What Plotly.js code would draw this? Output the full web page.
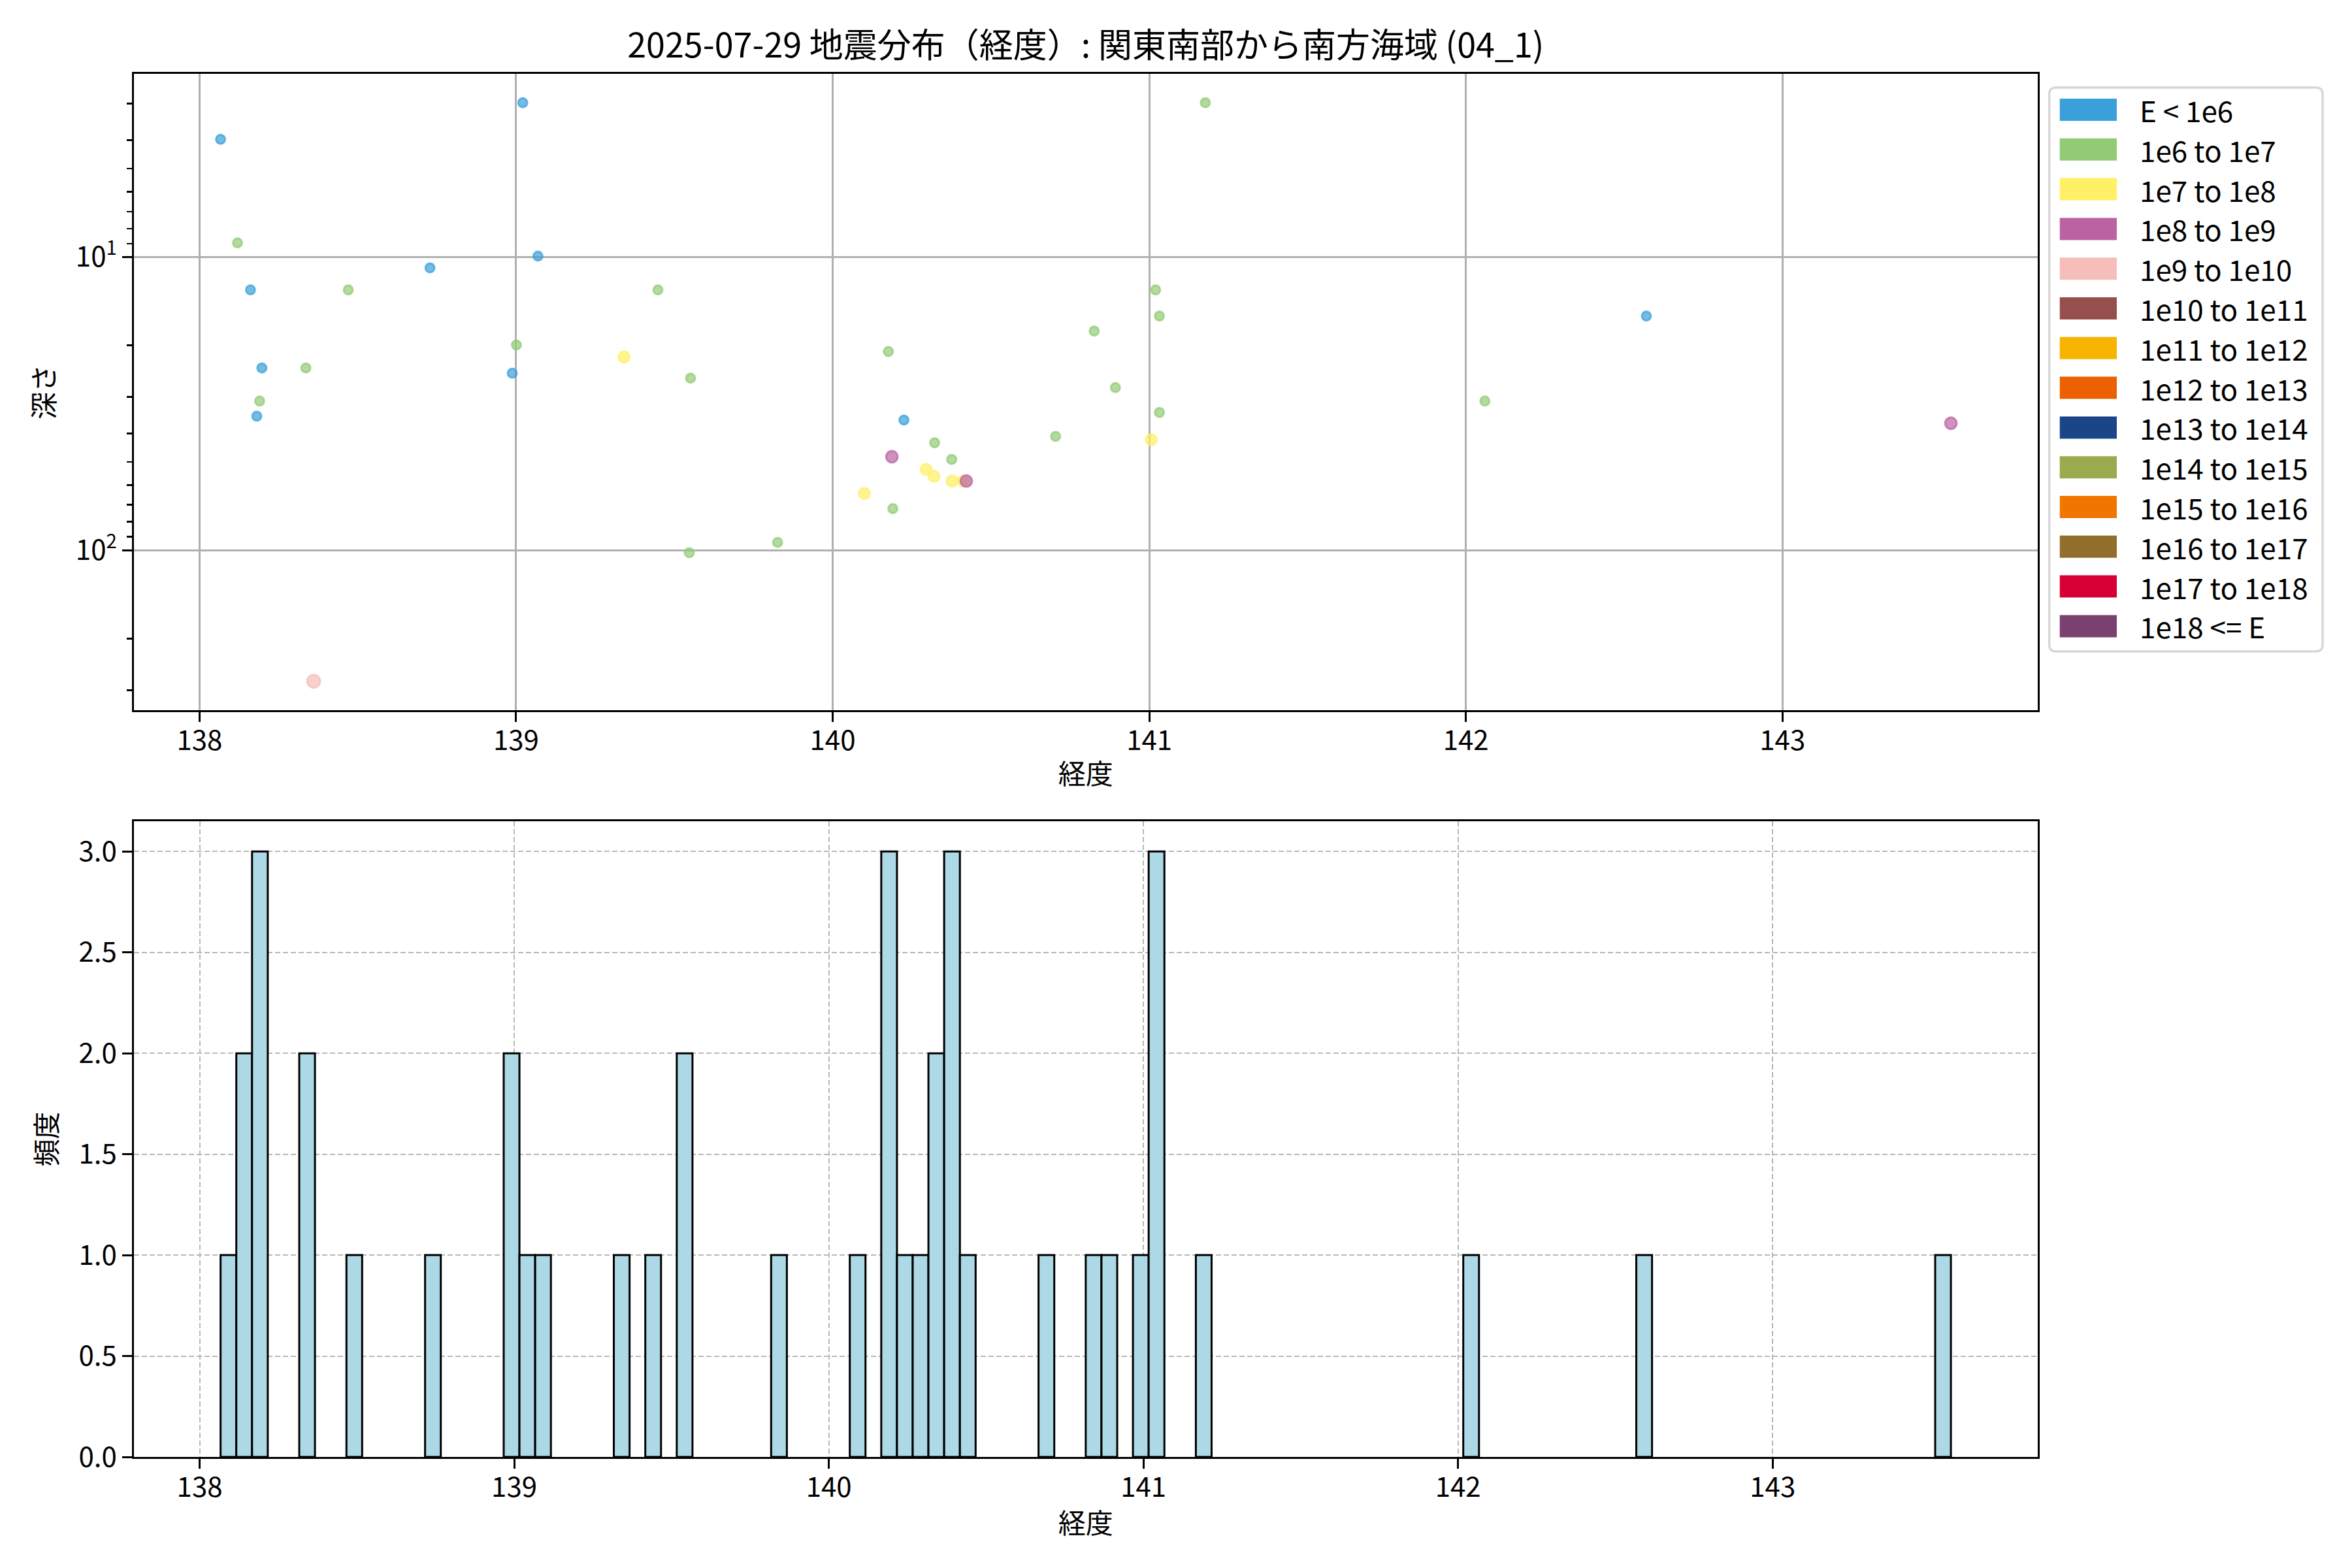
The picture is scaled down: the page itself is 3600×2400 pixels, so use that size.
<!DOCTYPE html>
<html>
<head>
<meta charset="utf-8">
<script src="https://cdn.plot.ly/plotly-3.0.1.min.js"></script>
<style>html,body{margin:0;padding:0;background:#fff;}</style>
</head>
<body>
<div id="chart" style="width:3600px;height:2400px;"></div>
<script>
// ---------------- DATA ----------------
const chartTitle = '2025-07-29 地震分布（経度）: 関東南部から南方海域 (04_1)';
const xLabel = '経度';
const yLabelTop = '深さ';
const yLabelBottom = '頻度';

const energyClasses = ['E < 1e6', '1e6 to 1e7', '1e7 to 1e8', '1e8 to 1e9', '1e9 to 1e10',
  '1e10 to 1e11', '1e11 to 1e12', '1e12 to 1e13', '1e13 to 1e14', '1e14 to 1e15',
  '1e15 to 1e16', '1e16 to 1e17', '1e17 to 1e18', '1e18 <= E'];

// longitude, depth, energy class index (one entry per earthquake)
const quakeLon = [
  138.0666, 139.021, 139.069, 138.728, 138.161, 138.197, 138.988, 138.181, 140.225, 142.570,
  138.120, 138.470, 139.448, 139.001, 138.336, 139.551, 138.190, 139.547, 139.826, 140.176,
  140.190, 140.322, 140.376, 140.704, 140.826, 140.893, 141.020, 141.032, 141.032, 141.177, 142.060,
  139.341, 140.100, 140.295, 140.320, 140.377, 140.412, 141.006,
  140.187, 140.422, 143.532,
  138.3606
];
const quakeDepth = [
  3.97, 2.98, 9.93, 10.9, 12.95, 23.9, 24.9, 34.9, 36.0, 15.9,
  8.95, 12.95, 12.95, 19.95, 23.9, 25.9, 31.0, 102, 94, 21.0,
  72.1, 43.0, 49.0, 40.9, 17.9, 27.9, 12.95, 15.9, 33.9, 2.98, 31.0,
  21.95, 64.0, 53.0, 56.0, 58.1, 58.1, 42.0,
  48.0, 58.1, 36.9,
  279.7
];
const quakeClass = [
  0, 0, 0, 0, 0, 0, 0, 0, 0, 0,
  1, 1, 1, 1, 1, 1, 1, 1, 1, 1,
  1, 1, 1, 1, 1, 1, 1, 1, 1, 1, 1,
  2, 2, 2, 2, 2, 2, 2,
  3, 3, 3,
  4
];
const histBinWidth = 0.05;   // degrees

// ---------------- STYLE ----------------
const FONT = '"Noto Sans CJK JP", "Noto Sans", sans-serif';
const classColors = ['#3AA0DA', '#93CA76', '#FFF065', '#BB63A2', '#F5BEBA', '#954F4D', '#F7B400',
  '#EB6000', '#1B4589', '#9AAA4E', '#EF7700', '#926E2D', '#D60037', '#7A4070'];
const classMarkerSize = [14, 14, 17, 18, 20, 21, 22, 23, 24, 25, 26, 27, 28, 29];
const W = 3600, H = 2400;
const px = v => v / W;
const py = v => 1 - v / H;
function rgba(hex, a) {
  const n = parseInt(hex.slice(1), 16);
  return `rgba(${(n >> 16) & 255},${(n >> 8) & 255},${n & 255},${a})`;
}

// ---------------- TRACES ----------------
const traces = [];
energyClasses.forEach((name, ci) => {
  const idx = quakeClass.map((c, i) => c === ci ? i : -1).filter(i => i >= 0);
  if (!idx.length) return;
  traces.push({
    type: 'scatter', mode: 'markers', name: name, showlegend: false,
    x: idx.map(i => quakeLon[i]), y: idx.map(i => quakeDepth[i]),
    xaxis: 'x', yaxis: 'y',
    marker: { size: classMarkerSize[ci], color: rgba(classColors[ci], 0.7),
              line: { color: rgba(classColors[ci], 0.7), width: 3 } },
    cliponaxis: false
  });
});

const lonMin = Math.min(...quakeLon), lonMax = Math.max(...quakeLon);
const nBins = Math.ceil((lonMax - lonMin) / histBinWidth + 1e-9);
const lastEdge = lonMin + nBins * histBinWidth;
traces.push({
  type: 'histogram', x: quakeLon, xaxis: 'x2', yaxis: 'y2', showlegend: false,
  autobinx: false,
  xbins: { start: lonMin, end: lastEdge, size: histBinWidth },
  marker: { color: '#ADD8E6', line: { color: 'black', width: 3 } }
});

// counts for y range
const counts = new Array(nBins).fill(0);
quakeLon.forEach(v => { let k = Math.floor((v - lonMin) / histBinWidth); if (k >= nBins) k = nBins - 1; counts[k]++; });
const maxCount = Math.max(...counts);

// ranges (matplotlib-like 5% margins)
const s1 = lonMax - lonMin;
const xRangeTop = [lonMin - 0.05 * s1, lonMax + 0.05 * s1];
const s2 = lastEdge - lonMin;
const xRangeBottom = [lonMin - 0.05 * s2, lastEdge + 0.05 * s2];
const lgMin = Math.log10(Math.min(...quakeDepth)), lgMax = Math.log10(Math.max(...quakeDepth));
const lgs = lgMax - lgMin;
const yRangeTop = [lgMax + 0.05 * lgs, lgMin - 0.05 * lgs];

const minorVals = [];
for (let d = Math.floor(lgMin - 1); d <= Math.ceil(lgMax + 1); d++) {
  for (let m = 2; m <= 9; m++) {
    const v = m * Math.pow(10, d);
    const lv = Math.log10(v);
    if (lv >= yRangeTop[1] && lv <= yRangeTop[0]) minorVals.push(v);
  }
}
const majorVals = [], majorText = [];
for (let d = Math.ceil(yRangeTop[1]); d <= Math.floor(yRangeTop[0]); d++) {
  majorVals.push(Math.pow(10, d)); majorText.push('10<sup>' + d + '</sup>');
}

// ---------------- LAYOUT ----------------
const tickFont = { family: FONT, size: 42, color: 'black' };
const titleFont = { family: FONT, size: 42, color: 'black' };
const axisBase = {
  showline: true, linecolor: 'black', linewidth: 3, mirror: true,
  ticks: 'outside', ticklen: 15, tickwidth: 3, tickcolor: 'black',
  tickfont: tickFont, zeroline: false, automargin: false, layer: 'above traces'
};
const xDom = [px(205.2), px(3118.5)];

const layout = {
  width: W, height: H,
  margin: { l: 0, r: 0, t: 0, b: 0, pad: 0 },
  paper_bgcolor: 'white', plot_bgcolor: 'white',
  showlegend: false, bargap: 0,
  font: { family: FONT, color: 'black' },
  title: { text: chartTitle, font: { family: FONT, size: 52, color: 'black' },
           x: px(1661.8), xanchor: 'center', xref: 'paper',
           y: py(70), yanchor: 'middle', yref: 'paper' },
  xaxis: Object.assign({}, axisBase, {
    domain: xDom, anchor: 'y', range: xRangeTop, tickmode: 'linear', tick0: 138, dtick: 1,
    ticklabelstandoff: -7,
    showgrid: true, gridcolor: '#b0b0b0', gridwidth: 3,
    title: { text: xLabel, font: titleFont, standoff: 12 }
  }),
  yaxis: Object.assign({}, axisBase, {
    domain: [py(1087), py(113)], anchor: 'x', type: 'log', range: yRangeTop,
    tickmode: 'array', tickvals: majorVals, ticktext: majorText,
    showgrid: true, gridcolor: '#b0b0b0', gridwidth: 3,
    minor: { tickmode: 'array', tickvals: minorVals, ticks: 'outside', ticklen: 8, tickwidth: 2.5,
             tickcolor: 'black', showgrid: false },
    title: { text: yLabelTop, font: titleFont, standoff: 20 }
  }),
  xaxis2: Object.assign({}, axisBase, {
    domain: xDom, anchor: 'y2', range: xRangeBottom, tickmode: 'linear', tick0: 138, dtick: 1,
    ticklabelstandoff: -7,
    showgrid: true, gridcolor: '#b8b8b8', gridwidth: 2, griddash: '8px,4px',
    title: { text: xLabel, font: titleFont, standoff: 16 }
  }),
  yaxis2: Object.assign({}, axisBase, {
    domain: [py(2230), py(1257)], anchor: 'x2', range: [0, maxCount * 1.05],
    tickmode: 'linear', tick0: 0, dtick: 0.5, tickformat: '.1f',
    showgrid: true, gridcolor: '#b8b8b8', gridwidth: 2, griddash: '8px,4px',
    title: { text: yLabelBottom, font: titleFont, standoff: 20 }
  }),
  shapes: [], annotations: []
};

// ---------------- LEGEND (patches + labels built from the class list) ----------------
const lg = { x0: 3136.7, x1: 3555, y0: 134, y1: 997, r: 10, patchX0: 3152.7, patchX1: 3240,
             row0: 168, pitch: 60.8, patchH: 34, textX: 3273 };
{
  const X0 = px(lg.x0), X1 = px(lg.x1), Y0 = py(lg.y0), Y1 = py(lg.y1);
  const rx = lg.r / W, ry = lg.r / H;
  const path = `M${X0 + rx},${Y0} L${X1 - rx},${Y0} Q${X1},${Y0} ${X1},${Y0 - ry} ` +
    `L${X1},${Y1 + ry} Q${X1},${Y1} ${X1 - rx},${Y1} L${X0 + rx},${Y1} Q${X0},${Y1} ${X0},${Y1 + ry} ` +
    `L${X0},${Y0 - ry} Q${X0},${Y0} ${X0 + rx},${Y0} Z`;
  layout.shapes.push({ type: 'path', xref: 'paper', yref: 'paper', path: path,
    line: { color: '#d6d6d6', width: 3.3 }, fillcolor: 'rgba(255,255,255,0.8)', layer: 'above' });
}
energyClasses.forEach((name, i) => {
  const yc = lg.row0 + lg.pitch * i;
  layout.shapes.push({ type: 'rect', xref: 'paper', yref: 'paper',
    x0: px(lg.patchX0), x1: px(lg.patchX1), y0: py(yc - lg.patchH / 2), y1: py(yc + lg.patchH / 2),
    fillcolor: classColors[i], line: { width: 0 }, layer: 'above' });
  layout.annotations.push({ xref: 'paper', yref: 'paper', x: px(lg.textX), y: py(yc),
    xanchor: 'left', yanchor: 'middle', showarrow: false,
    text: name.replace(/</g, '&lt;'), font: { family: FONT, size: 44, color: 'black' } });
});

Plotly.newPlot('chart', traces, layout, { staticPlot: true, displayModeBar: false });
</script>
</body>
</html>
